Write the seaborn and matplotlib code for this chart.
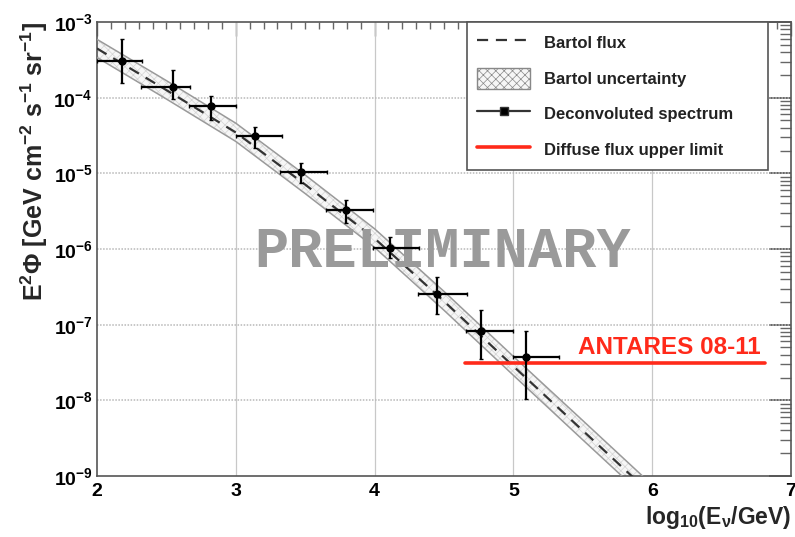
import numpy as np
import pandas as pd
import matplotlib
matplotlib.use("Agg")
import matplotlib.pyplot as plt
import matplotlib.ticker as mticker
from matplotlib.lines import Line2D
from matplotlib.patches import Patch
import seaborn as sns

# ---------------- data ----------------
# Bartol flux model (log10 E, E^2 Phi)
bartol_loge = [2.0, 2.5, 3.0, 3.5, 4.0, 4.5, 5.0, 5.5, 6.0]
bartol_flux = [4.47e-4, 1.26e-4, 3.47e-5, 7.1e-6, 1.38e-6, 2.04e-7, 2.82e-8, 3.98e-9, 5.6e-10]
bartol_high = [5.9e-4, 1.68e-4, 4.6e-5, 9.5e-6, 1.85e-6, 2.75e-7, 3.8e-8, 5.4e-9, 7.6e-10]
bartol_low = [3.4e-4, 9.6e-5, 2.64e-5, 5.4e-6, 1.05e-6, 1.55e-7, 2.14e-8, 3.0e-9, 4.25e-10]

# Deconvoluted spectrum
spec_loge = [2.18, 2.545, 2.82, 3.137, 3.468, 3.796, 4.11, 4.448, 4.767, 5.09]
spec_loge_lo = [2.0, 2.32, 2.66, 3.0, 3.32, 3.65, 3.99, 4.31, 4.655, 4.995]
spec_loge_hi = [2.326, 2.67, 3.0, 3.33, 3.66, 3.99, 4.32, 4.667, 5.0, 5.33]
spec_flux = [3.09e-4, 1.40e-4, 7.76e-5, 3.12e-5, 1.05e-5, 3.31e-6, 1.02e-6, 2.55e-7, 8.36e-8, 3.72e-8]
spec_flux_hi = [5.96e-4, 2.32e-4, 1.05e-4, 4.14e-5, 1.36e-5, 4.47e-6, 1.45e-6, 4.32e-7, 1.55e-7, 8.36e-8]
spec_flux_lo = [1.58e-4, 9.6e-5, 5.07e-5, 2.14e-5, 7.5e-6, 2.24e-6, 7.6e-7, 1.39e-7, 3.5e-8, 1.04e-8]

# ANTARES 08-11 diffuse flux upper limit
limit_loge = [4.65, 6.81]
limit_flux = [3.1e-8, 3.1e-8]

# axis ticks
x_ticks = [2, 3, 4, 5, 6, 7]
y_ticks = [1e-9, 1e-8, 1e-7, 1e-6, 1e-5, 1e-4, 1e-3]

legend_labels = ["Bartol flux", "Bartol uncertainty", "Deconvoluted spectrum", "Diffuse flux upper limit"]

# ---------------- style ----------------
sns.set_theme(style="white")
plt.rcParams["font.family"] = ["Liberation Sans", "DejaVu Sans"]
plt.rcParams["font.weight"] = "bold"
plt.rcParams["mathtext.fontset"] = "custom"
plt.rcParams["mathtext.rm"] = "Liberation Sans:bold"
plt.rcParams["mathtext.bf"] = "Liberation Sans:bold"
plt.rcParams["mathtext.it"] = "Liberation Sans:italic:bold"
plt.rcParams["mathtext.default"] = "bf"
plt.rcParams["hatch.linewidth"] = 0.5

fig = plt.figure(figsize=(7.95, 5.37), dpi=100)
ax = fig.add_axes([0.122, 0.1136, 0.873, 0.8454])

bdf = pd.DataFrame({"loge": bartol_loge, "flux": bartol_flux,
                    "hi": bartol_high, "lo": bartol_low})
sdf = pd.DataFrame({"loge": spec_loge, "lo_e": spec_loge_lo, "hi_e": spec_loge_hi,
                    "flux": spec_flux, "fhi": spec_flux_hi, "flo": spec_flux_lo})

# uncertainty band
ax.fill_between(bdf["loge"], bdf["lo"], bdf["hi"], facecolor="#f6f6f6",
                edgecolor="#d4d4d4", hatch="xxxx", linewidth=0, zorder=2)
sns.lineplot(data=bdf, x="loge", y="hi", ax=ax, color="#9a9a9a", lw=1.1, zorder=3)
sns.lineplot(data=bdf, x="loge", y="lo", ax=ax, color="#9a9a9a", lw=1.1, zorder=3)
# central flux
sns.lineplot(data=bdf, x="loge", y="flux", ax=ax, color="#333333", lw=1.6,
             linestyle=(0, (5, 3.5)), zorder=4)

# deconvoluted spectrum
xerr = [sdf["loge"] - sdf["lo_e"], sdf["hi_e"] - sdf["loge"]]
yerr = [sdf["flux"] - sdf["flo"], sdf["fhi"] - sdf["flux"]]
ax.errorbar(sdf["loge"], sdf["flux"], xerr=xerr, yerr=yerr, fmt="o", color="black",
            ms=5, elinewidth=1.6, capsize=1.5, capthick=1.0, zorder=6)

# upper limit
sns.lineplot(x=limit_loge, y=limit_flux, ax=ax, color="#ff2a1a", lw=2.6, zorder=5)
ax.text(6.78, 3.5e-8, "ANTARES 08-11", color="#ff2a1a", fontsize=17.5,
        fontweight="bold", ha="right", va="bottom", zorder=7)

# PRELIMINARY watermark
ax.text(4.49, 0.92e-6, "PRELIMINARY", color="#9a9a9a", fontsize=41,
        family=["Liberation Mono", "DejaVu Sans Mono"], fontweight="bold",
        ha="center", va="center", zorder=5)

# axes
ax.set_yscale("log")
ax.set_xlim(2, 7)
ax.set_ylim(1e-9, 1e-3)

ax.xaxis.set_major_locator(mticker.FixedLocator(x_ticks))
ax.xaxis.set_minor_locator(mticker.MultipleLocator(0.1))
ax.yaxis.set_major_locator(mticker.FixedLocator(y_ticks))
ax.yaxis.set_minor_locator(mticker.LogLocator(base=10, subs=np.arange(2, 10), numticks=20))
ax.yaxis.set_minor_formatter(mticker.NullFormatter())
ax.yaxis.set_major_formatter(mticker.FuncFormatter(
    lambda v, p: r"$\mathbf{10^{%d}}$" % int(round(np.log10(v)))))
ax.xaxis.set_major_formatter(mticker.FuncFormatter(lambda v, p: "%d" % int(round(v))))

ax.tick_params(axis="both", which="both", direction="in", top=True, right=True,
               colors="#666666", labelcolor="black")
ax.tick_params(axis="x", which="major", length=10, width=1, labelsize=14, pad=5)
ax.tick_params(axis="x", which="minor", length=5, width=1)
ax.tick_params(axis="y", which="major", length=16, width=1.4, labelsize=14, pad=3)
ax.tick_params(axis="y", which="minor", length=8, width=1)

ax.grid(False)
for v in x_ticks[1:-1]:
    ax.axvline(v, color="#c8c8c8", lw=0.9, zorder=1)
for yv in y_ticks[1:-1]:
    ax.axhline(yv, color="#b8b8b8", lw=1.1, ls=(0, (1, 1)), zorder=1)

for s in ax.spines.values():
    s.set_color("#555555")
    s.set_linewidth(1.2)

ax.set_xlabel(r"log$_{10}$(E$_{\nu}$/GeV)", fontsize=16.5, fontweight="bold", loc="right")
ax.xaxis.set_label_coords(1.0, -0.062)
ax.set_ylabel(r"E$^{2}$Φ [GeV cm$^{-2}$ s$^{-1}$ sr$^{-1}$]", fontsize=18,
              fontweight="bold", loc="top")
ax.yaxis.set_label_coords(-0.068, 1.0)

# legend
handles = [
    Line2D([], [], color="#333333", lw=1.6, linestyle=(0, (5, 3.5))),
    Patch(facecolor="#f6f6f6", edgecolor="#888888", hatch="xxxx", lw=1),
    Line2D([], [], color="#333333", lw=1.6, marker="s", ms=6, mfc="black"),
    Line2D([], [], color="#ff2a1a", lw=2.6),
]
leg = ax.legend(handles, legend_labels, loc="upper left",
                bbox_to_anchor=(0.533, 0.0, 0.434, 1.0), mode="expand",
                frameon=True, fancybox=False, framealpha=1, edgecolor="#555555",
                fontsize=12, handlelength=3.2, handleheight=1.6, labelspacing=0.85,
                borderpad=0.6, handletextpad=0.8, borderaxespad=0.0)
leg.get_frame().set_linewidth(1.2)
for t in leg.get_texts():
    t.set_fontweight("bold")
    t.set_color("#222222")

fig.savefig("out.png", dpi=100)
